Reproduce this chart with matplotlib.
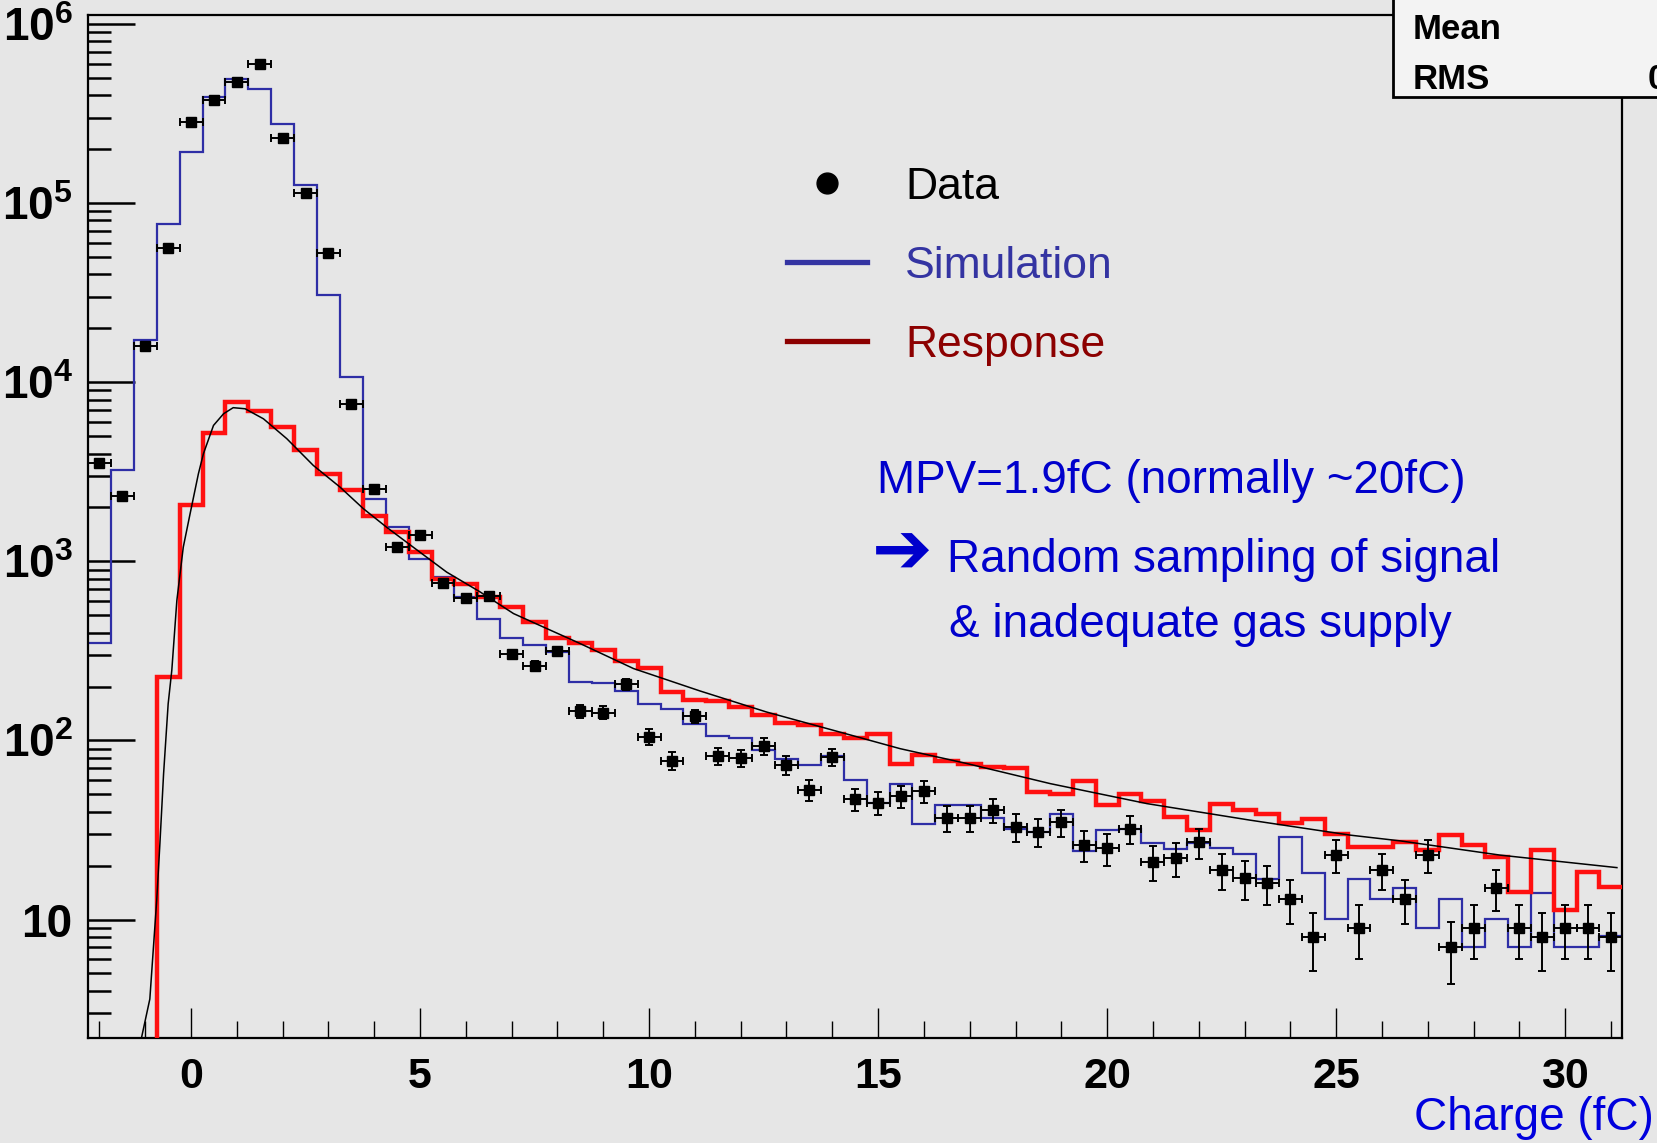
import numpy as np
import matplotlib
matplotlib.use("Agg")
import matplotlib.pyplot as plt
from matplotlib.lines import Line2D
from matplotlib.patches import Rectangle
from matplotlib.ticker import LogLocator, MultipleLocator, NullFormatter

# -----------------------------
# Fonts
# -----------------------------
FONT = "Liberation Sans"
plt.rcParams["font.family"] = [FONT, "DejaVu Sans"]
plt.rcParams["mathtext.fontset"] = "custom"
plt.rcParams["mathtext.rm"] = FONT + ":bold"
plt.rcParams["mathtext.bf"] = FONT + ":bold"
plt.rcParams["mathtext.default"] = "rm"

# -----------------------------
# Data (charge in fC, 0.5 fC bins)
# -----------------------------
bin_lo, bin_hi, bin_w = -2.25, 31.25, 0.5
edges = np.arange(bin_lo, bin_hi + 0.01, bin_w)
centers = edges[:-1] + bin_w / 2

data_counts = [
    3540, 2330, 15850, 56400, 284000, 377000, 477000, 598000, 230000, 114000,
    52500, 7590, 2550, 1200, 1410, 757, 624, 638, 304, 260,
    316, 146, 143, 206, 105, 77, 137, 82, 80, 93,
    73, 53, 81, 47, 45, 49, 52, 37, 37, 41,
    33, 31, 35, 26, 25, 32, 21, 22, 27, 19,
    17, 16, 13, 8, 23, 9, 19, 13, 23, 7,
    9, 15, 9, 8, 9, 9, 8,
]

simulation = [
    351, 3250, 17100, 76000, 194000, 390000, 491000, 432000, 275000, 127000,
    30800, 10700, 2240, 1550, 1035, 817, 632, 479, 371, 340,
    312, 212, 208, 189, 159, 149, 123, 106, 103, 89,
    79, 73, 82, 60, 45, 57, 34, 43.5, 43.5, 36.7,
    32.2, 30.9, 38.7, 24.1, 31.5, 32.2, 26.9, 24.9, 26.6, 25.1,
    23.2, 16.9, 28.9, 18.2, 10.1, 16.9, 13.1, 15.1, 9.0, 13.1,
    7.0, 10.1, 7.0, 14.0, 7.0, 7.0, 8.1,
]

response = [
    0, 0, 0, 227, 2070, 5220, 7740, 6900, 5610, 4160,
    3080, 2490, 1800, 1460, 1130, 800, 744, 632, 554, 461,
    375, 350, 318, 277, 254, 187, 169, 166, 154, 138,
    125, 122, 109, 103, 108, 74, 83, 77, 74, 71,
    70.6, 51.6, 50.1, 59.2, 43.5, 50.1, 45.9, 37.4, 31.5, 44.4,
    40.8, 38.7, 34.7, 36.2, 30.2, 25.5, 25.5, 27.2, 24.6, 29.6,
    26.2, 22.4, 14.3, 24.4, 11.3, 18.5, 15.2,
]

# fitted curve
fit_x = [-1.08, -0.9, -0.75, -0.68, -0.6, -0.5, -0.42, -0.31, -0.17, -0.02,
         0.16, 0.27, 0.49, 0.71, 0.92, 1.18, 1.58, 2.09, 2.67, 3.25,
         3.76, 4.27, 4.85, 5.58, 6.31, 7.04, 7.77, 8.49, 9.66, 11.11,
         12.57, 14.02, 15.48, 16.94, 18.76, 20.87, 23.12, 25.31, 26.4, 28.58, 31.13]
fit_y = [2.2, 3.6, 12.8, 26.6, 65, 160, 247, 605, 1200, 1850,
         3080, 3990, 5740, 6670, 7210, 7110, 6250, 4840, 3430, 2600,
         1970, 1550, 1200, 871, 675, 511, 421, 348, 252, 189,
         144, 114, 90, 74.3, 57.4, 44.4, 35.9, 29.6, 27.5, 22.9, 19.5]

assert len(data_counts) == len(centers) == len(simulation) == len(response)

x_ticks = [0, 5, 10, 15, 20, 25, 30]
y_ticks = [10, 1e2, 1e3, 1e4, 1e5, 1e6]
y_ticklabels = ["10", "$10^{2}$", "$10^{3}$", "$10^{4}$", "$10^{5}$", "$10^{6}$"]

legend_labels = ["Data", "Simulation", "Response"]
legend_colors = ["black", "#3434a2", "#8c0000"]

# -----------------------------
# Figure geometry (pixels of the original 1657x1143 canvas)
# -----------------------------
W, H = 1657, 1143
BG = "#e6e6e6"


def fx(px):
    return px / W


def fy(py):
    return 1 - py / H


fig = plt.figure(figsize=(W / 100, H / 100), dpi=100, facecolor=BG)
ax = fig.add_axes([fx(88), fy(1037.7), fx(1622.4) - fx(88), fy(14.5) - fy(1037.7)])
ax.set_facecolor(BG)

# -----------------------------
# Histograms, fit and data
# -----------------------------
ax.stairs(simulation, edges, color="#2e2ea6", lw=1.6, baseline=None, zorder=2)
ax.stairs(response, edges, color="#ff1010", lw=3.2, baseline=None, zorder=3)
ax.plot(fit_x, fit_y, color="black", lw=1.1, zorder=4)

data_arr = np.array(data_counts, dtype=float)
ax.errorbar(centers, data_arr, xerr=bin_w / 2, yerr=np.sqrt(data_arr),
            fmt="s", color="black", ms=7.5, elinewidth=1.4,
            capsize=3, capthick=1.4, zorder=5)

ax.set_yscale("log")
ax.set_xlim(bin_lo, bin_hi)

# -----------------------------
# Axes, ticks
# -----------------------------
ax.set_xticks(x_ticks)
ax.xaxis.set_minor_locator(MultipleLocator(1))
ax.tick_params(axis="x", which="major", direction="in", length=21.6, width=1.0,
               labelsize=31, pad=14, top=False)
ax.tick_params(axis="x", which="minor", direction="in", length=12, width=1.0, top=False)
for lbl in ax.get_xticklabels():
    lbl.set_fontweight("bold")

ax.set_yticks(y_ticks, labels=y_ticklabels)
ax.yaxis.set_minor_locator(LogLocator(base=10, subs=np.arange(2, 10)))
ax.yaxis.set_minor_formatter(NullFormatter())
ax.tick_params(axis="y", which="major", direction="in", length=34, width=1.8,
               labelsize=33, pad=11, right=False)
ax.tick_params(axis="y", which="minor", direction="in", length=16.5, width=1.8, right=False)
for lbl in ax.get_yticklabels():
    lbl.set_fontweight("bold")
ax.set_ylim(2.19, 1.13e6)

for side in ["left", "bottom", "top", "right"]:
    ax.spines[side].set_linewidth(1.6)

# -----------------------------
# Legend
# -----------------------------
handles = [
    Line2D([], [], ls="none", marker="o", ms=15, color="black"),
    Line2D([], [], color=legend_colors[1], lw=3.8),
    Line2D([], [], color=legend_colors[2], lw=3.8),
]
leg = ax.legend(handles, legend_labels, loc="upper left",
                bbox_to_anchor=(fx(786.7), fy(167)), bbox_transform=fig.transFigure,
                frameon=False, fontsize=32, handlelength=1.8, handletextpad=0.86,
                labelspacing=0.85, borderpad=0, borderaxespad=0)
for t, c in zip(leg.get_texts(), legend_colors):
    t.set_color(c)

# -----------------------------
# Annotation
# -----------------------------
NOTE = "#0000cc"
fig.text(fx(876.7), fy(492.7), "MPV=1.9fC (normally ~20fC)", color=NOTE,
         fontsize=33, va="baseline", ha="left")
fig.text(fx(872), fy(574), "\u2794", color=NOTE, fontsize=52,
         va="baseline", ha="left", family=["DejaVu Sans"], fontweight="bold")
fig.text(fx(947.3), fy(571.7), "Random sampling of signal", color=NOTE,
         fontsize=33, va="baseline", ha="left")
fig.text(fx(949.3), fy(636.7), "& inadequate gas supply", color=NOTE,
         fontsize=33, va="baseline", ha="left")

fig.text(fx(1654), fy(1130), "Charge (fC)", color="#0000dd", fontsize=33,
         va="baseline", ha="right")

# -----------------------------
# Stats box (cut by the canvas edge)
# -----------------------------
fig.patches.append(Rectangle((fx(1393), fy(96.7)), 0.3, 0.2, transform=fig.transFigure,
                             facecolor="#f3f3f3", edgecolor="black", lw=2, zorder=5))
fig.text(fx(1413), fy(39.3), "Mean", fontsize=25, fontweight="bold", va="baseline", zorder=6)
fig.text(fx(1413), fy(89.3), "RMS", fontsize=25, fontweight="bold", va="baseline", zorder=6)
fig.text(fx(1648), fy(89.3), "0", fontsize=25, fontweight="bold", va="baseline", zorder=6)

fig.savefig("out.png", dpi=100, facecolor=BG)
